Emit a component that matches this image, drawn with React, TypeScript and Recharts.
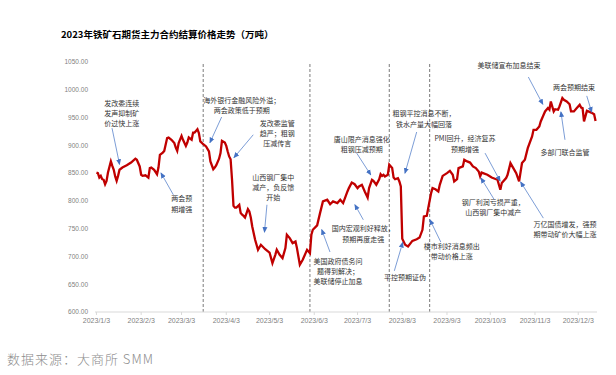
import { LineChart, Line, XAxis, YAxis, ReferenceLine, ReferenceDot } from "recharts";

// settlement price of the iron ore main contract
const dates = [
  "1/3", "1/4", "1/5", "1/6", "1/7", "1/8", "1/9", "1/10", "1/11", "1/13",
  "1/14", "1/15", "1/16", "1/17", "1/18", "1/19", "1/21", "1/24", "1/27", "1/30",
  "1/31", "2/2", "2/3", "2/4", "2/6", "2/8", "2/9", "2/10", "2/12", "2/14",
  "2/15", "2/16", "2/18", "2/19", "2/21", "2/22", "2/24", "2/26", "2/27", "2/28",
  "3/1", "3/3", "3/4", "3/6", "3/7", "3/8", "3/10", "3/11", "3/12", "3/13",
  "3/14", "3/15", "3/16", "3/18", "3/20", "3/22", "3/23", "3/25", "3/26", "3/27",
  "3/29", "3/30", "3/31", "4/2", "4/3", "4/4", "4/5", "4/6", "4/7", "4/8",
  "4/9", "4/10", "4/12", "4/13", "4/14", "4/15", "4/16", "4/18", "4/19", "4/20",
  "4/21", "4/23", "4/25", "4/27", "4/30", "5/3", "5/5", "5/7", "5/8", "5/10",
  "5/12", "5/14", "5/15", "5/17", "5/19", "5/21", "5/22", "5/24", "5/26", "5/28",
  "5/29", "5/31", "6/1", "6/2", "6/5", "6/7", "6/9", "6/12", "6/14", "6/16",
  "6/19", "6/21", "6/23", "6/26", "6/27", "6/29", "7/1", "7/3", "7/4", "7/6",
  "7/8", "7/10", "7/11", "7/13", "7/14", "7/16", "7/18", "7/19", "7/20", "7/21",
  "7/22", "7/24", "7/25", "7/27", "7/28", "7/29", "7/31", "8/1", "8/2", "8/3",
  "8/5", "8/7", "8/10", "8/13", "8/15", "8/17", "8/18", "8/20", "8/21", "8/23",
  "8/24", "8/26", "8/28", "8/29", "8/31", "9/3", "9/5", "9/7", "9/8", "9/10",
  "9/11", "9/14", "9/15", "9/17", "9/19", "9/21", "9/23", "9/25", "9/26", "9/27",
  "10/1", "10/4", "10/8", "10/10", "10/11", "10/14", "10/15", "10/17", "10/19", "10/21",
  "10/23", "10/25", "10/27", "10/29", "11/1", "11/2", "11/4", "11/6", "11/7", "11/9",
  "11/10", "11/12", "11/13", "11/14", "11/16", "11/17", "11/19", "11/20", "11/22", "11/23",
  "11/25", "11/27", "11/28", "11/30", "12/2", "12/4", "12/5", "12/6", "12/7", "12/9",
  "12/10", "12/12", "12/14", "12/15",
];

const prices = [
  851, 850, 842, 845, 839, 838, 830, 836, 851, 871,
  863, 856, 844, 836, 845, 856, 860, 864, 869, 876,
  874, 862, 847, 845, 846, 842, 859, 860, 856, 848,
  860, 883, 887, 890, 913, 914, 910, 904, 896, 890,
  904, 917, 910, 899, 905, 914, 910, 923, 923, 926,
  929, 922, 907, 902, 898, 889, 871, 857, 860, 864,
  876, 886, 908, 905, 899, 889, 880, 875, 838, 791,
  788, 788, 793, 778, 775, 773, 770, 785, 781, 770,
  754, 730, 712, 721, 713, 707, 688, 703, 712, 703,
  697, 715, 739, 733, 724, 727, 715, 685, 694, 706,
  712, 706, 739, 748, 756, 778, 799, 802, 794, 799,
  796, 802, 796, 817, 823, 833, 830, 823, 826, 829,
  817, 806, 823, 838, 836, 829, 839, 848, 845, 847,
  844, 847, 865, 859, 842, 839, 841, 835, 826, 732,
  721, 718, 728, 731, 734, 748, 772, 773, 787, 814,
  823, 821, 817, 829, 845, 850, 854, 847, 835, 839,
  859, 862, 874, 871, 869, 862, 859, 853, 844, 851,
  847, 842, 838, 820, 832, 841, 847, 868, 859, 850,
  835, 868, 874, 895, 916, 928, 928, 934, 943, 955,
  961, 967, 964, 979, 961, 965, 964, 970, 985, 982,
  979, 974, 961, 961, 967, 973, 968, 967, 943, 962,
  961, 959, 956, 944,
];

const tickDates = ["1/3", "2/3", "3/3", "4/3", "5/3", "6/3", "7/3", "8/3", "9/3", "10/3", "11/3", "12/3"];
const eventDates = ["3/18", "5/31", "7/25", "8/22"];

// annotation text anchor, arrow tail and arrow head in [day, price]
const notes = [
  { lines: ["发改委连续", "发声抑制矿", "价过快上涨"], at: [17.5, 974], from: [10.8, 931], to: [16, 866] },
  { lines: ["两会预", "期增强"], at: [59.1, 803], from: [53.3, 811], to: [44.8, 850] },
  { lines: ["海外银行金融风险外溢；", "两会政策低于预期"], at: [100.7, 980], from: [86.8, 951], to: [78.7, 905] },
  { lines: ["发改委监管", "趋严；粗钢", "压减传言"], at: [125.4, 938], from: [108.7, 919], to: [95.4, 878] },
  { lines: ["山西钢厂集中", "减产，负反馈", "开始"], at: [122.6, 841], from: [118.2, 793], to: [116.5, 744] },
  { lines: ["美国政府债务问", "题得到解决；", "美联储停止加息"], at: [167.5, 690], from: [161.9, 708], to: [156.2, 748] },
  { lines: ["国内宏观利好释放，", "预期再度走强"], at: [185, 749], from: [185, 766], to: [179.2, 793] },
  { lines: ["唐山限产消息强化", "粗钢压减预期"], at: [183.9, 910], from: [180.4, 886], to: [190.1, 847] },
  { lines: ["粗钢平控消息不断，", "铁水产量大幅回落"], at: [227.1, 956], from: [222, 924], to: [213.9, 850] },
  { lines: ["平控预期证伪"], at: [213.9, 662], from: [206.5, 674], to: [212.3, 725] },
  { lines: ["楼市利好消息频出", "带动价格上涨"], at: [246.3, 718], from: [238.7, 726], to: [231.2, 766] },
  { lines: ["PMI回升，经济复苏", "预期增强"], at: [255.5, 911], from: [269.4, 886], to: [279.8, 836] },
  { lines: ["钢厂利润亏损严重，", "山西钢厂集中减产"], at: [275.1, 796], from: [275.6, 803], to: [266.6, 841] },
  { lines: ["万亿国债增发，强预", "期带动矿价大幅上涨"], at: [324.8, 757], from: [309.8, 769], to: [294.1, 834] },
  { lines: ["美联储宣布加息结束"], at: [286, 1043], from: [299.4, 1023], to: [309.4, 974] },
  { lines: ["两会预期结束"], at: [331.1, 1004], from: [339.9, 989], to: [343.3, 960] },
  { lines: ["多部门联合监管"], at: [324.8, 888], from: [324.8, 910], to: [322, 960] },
];

const start = Date.UTC(2023, 0, 3);
const toDay = (d: string) => {
  const [m, dd] = d.split("/").map(Number);
  return (Date.UTC(2023, m - 1, dd) - start) / 86400000;
};

const data = dates.map((d, i) => ({ t: toDay(d), v: prices[i] }));
const ticks = tickDates.map(toDay);
const tickLabel = (t: number) => {
  const d = new Date(start + t * 86400000);
  return `2023/${d.getUTCMonth() + 1}/${d.getUTCDate()}`;
};

const cjk = "'Noto Sans CJK SC', sans-serif";
const LINE_H = 10.2;

function NoteText({ cx, cy, lines }: { cx: number; cy: number; lines: string[] }) {
  // keep the block centred where the reference has it (its lines are ~9.3px apart)
  const shift = ((lines.length - 1) * (LINE_H - 9.3)) / 2;
  return (
    <g>
      {lines.map((l, i) => (
        <text
          key={i}
          x={cx}
          y={cy - shift + i * LINE_H + 2.6}
          textAnchor="middle"
          fontSize={7}
          fill="#333"
          fontFamily={cjk}
        >
          {l}
        </text>
      ))}
    </g>
  );
}

export default function App() {
  return (
    <div style={{ position: "relative", width: 616, height: 375, background: "#fff" }}>
      <style>{"body{margin:0}"}</style>
      <div
        style={{
          position: "absolute",
          left: 61,
          top: 27,
          fontFamily: cjk,
          fontWeight: 700,
          fontSize: 9.5,
          lineHeight: "14px",
          color: "#000",
          whiteSpace: "nowrap",
        }}
      >
        2023年铁矿石期货主力合约结算价格走势（万吨）
      </div>
      <LineChart width={616} height={375} data={data} margin={{ top: 62, right: 19, bottom: 43, left: 0 }}>
        <defs>
          <marker id="arr" markerWidth="6" markerHeight="6" refX="5" refY="3" orient="auto" markerUnits="userSpaceOnUse">
            <path d="M0,0.5 L6,3 L0,5.5 z" fill="#4472c4" />
          </marker>
        </defs>
        <XAxis
          dataKey="t"
          type="number"
          domain={[-1, 347]}
          ticks={ticks}
          tickFormatter={tickLabel}
          height={20}
          interval={0}
          stroke="#d9d9d9"
          tickSize={3}
          tickMargin={3.5}
          tick={{ fontSize: 7, fill: "#7f7f7f", fontFamily: "'Liberation Sans', sans-serif" }}
        />
        <YAxis
          type="number"
          domain={[600, 1050]}
          ticks={[600, 650, 700, 750, 800, 850, 900, 950, 1000, 1050]}
          tickFormatter={(v: number) => v.toFixed(2)}
          width={95}
          axisLine={false}
          tickLine={false}
          tickSize={0}
          tickMargin={7}
          tick={{ fontSize: 6.5, fill: "#7f7f7f", fontFamily: "'Liberation Sans', sans-serif" }}
        />
        {eventDates.map((d) => (
          <ReferenceLine key={d} x={toDay(d)} stroke="#595959" strokeWidth={0.8} strokeDasharray="3 2" />
        ))}
        <Line
          type="linear"
          dataKey="v"
          stroke="#c00000"
          strokeWidth={2.3}
          dot={false}
          isAnimationActive={false}
        />
        {notes.map((n, i) => (
          <ReferenceLine
            key={`a${i}`}
            segment={[
              { x: n.from[0], y: n.from[1] },
              { x: n.to[0], y: n.to[1] },
            ]}
            stroke="#4472c4"
            strokeWidth={0.7}
            markerEnd="url(#arr)"
          />
        ))}
        {notes.map((n, i) => (
          <ReferenceDot
            key={`t${i}`}
            x={n.at[0]}
            y={n.at[1]}
            r={0}
            ifOverflow="visible"
            shape={(p: any) => <NoteText cx={p.cx} cy={p.cy} lines={n.lines} />}
          />
        ))}
      </LineChart>
      <div
        style={{
          position: "absolute",
          left: 7,
          top: 350,
          fontFamily: cjk,
          fontWeight: 300,
          fontSize: 13,
          lineHeight: "18px",
          letterSpacing: 1,
          color: "#8c8c8c",
          whiteSpace: "nowrap",
        }}
      >
        数据来源：大商所 SMM
      </div>
    </div>
  );
}
